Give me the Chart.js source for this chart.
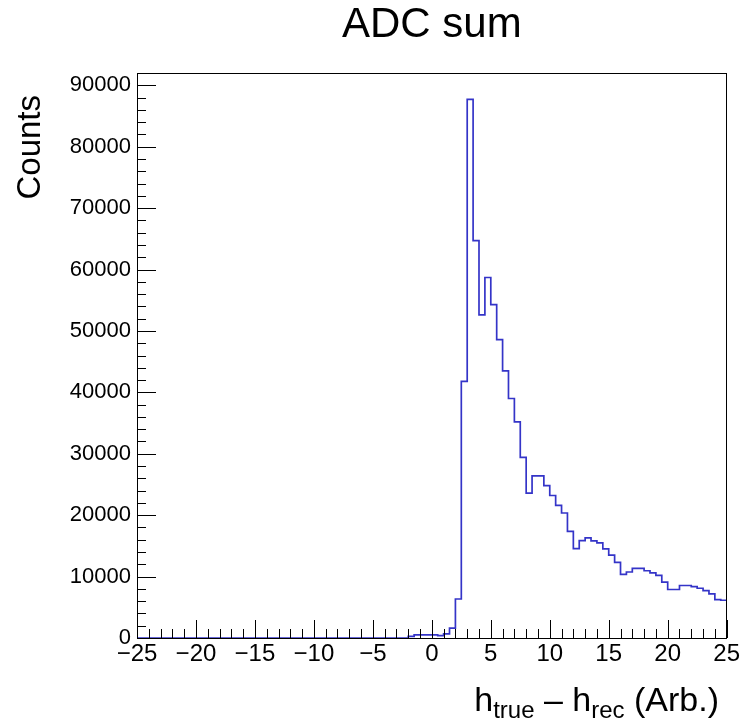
<!DOCTYPE html>
<html>
<head>
<meta charset="utf-8">
<script src="https://cdn.jsdelivr.net/npm/chart.js@4.4.1/dist/chart.umd.min.js"></script>
<style>
  html, body { margin: 0; padding: 0; background: #ffffff; }
  #c { display: block; }
</style>
</head>
<body>
<canvas id="c" width="742" height="721"></canvas>
<script>
// ---- Data (histogram "ADC sum", 100 bins of 0.5 from -25 to 25) ----
const xMin = -25;
const xMax = 25;
const binWidth = 0.5;
const counts = [
  0, 0, 0, 0, 0, 0, 0, 0, 0, 0,            // -25 .. -20
  0, 0, 0, 0, 0, 0, 0, 0, 0, 0,            // -20 .. -15
  0, 0, 0, 0, 0, 0, 0, 0, 0, 0,            // -15 .. -10
  0, 0, 0, 0, 0, 0, 0, 0, 0, 0,            // -10 .. -5
  0, 0, 0, 0, 0, 0, 250, 500, 500, 500,    // -5 .. 0
  500, 380, 680, 1600, 6350, 41800, 87700, 64700, 52600, 58700,   // 0 .. 5
  54300, 48600, 43500, 39000, 35200, 29400, 23600, 26400, 26400, 24800, // 5 .. 10
  23200, 21600, 20350, 17350, 14550, 15850, 16300, 15800, 15500, 14500, // 10 .. 15
  13500, 12300, 10350, 10750, 11350, 11350, 10950, 10600, 10200, 9100,  // 15 .. 20
  7900, 7900, 8550, 8550, 8350, 8100, 7700, 7200, 6250, 6150            // 20 .. 25
];
const xTickValues = [-25, -20, -15, -10, -5, 0, 5, 10, 15, 20, 25];
const xTickLabels = ['\u221225', '\u221220', '\u221215', '\u221210', '\u22125', '0', '5', '10', '15', '20', '25'];
const yTickValues = [0, 10000, 20000, 30000, 40000, 50000, 60000, 70000, 80000, 90000];
const yTickLabels = ['0', '10000', '20000', '30000', '40000', '50000', '60000', '70000', '80000', '90000'];
const yMax = 92000;
const xMinorStep = 1;
const yMinorStep = 2000;
const titleText = 'ADC sum';
const yTitleText = 'Counts';

// build step points (left edge of each bin + closing point at right edge)
const points = counts.map((v, i) => ({ x: xMin + i * binWidth, y: v }));
points.push({ x: xMax, y: counts[counts.length - 1] });

const FONT = "'Liberation Sans', Arial, Helvetica, sans-serif";
Chart.defaults.font.family = FONT;
Chart.defaults.color = '#000000';

const frameAndText = {
  id: 'frameAndText',
  afterDraw(chart) {
    const ctx = chart.ctx;
    const a = chart.chartArea;
    const xs = chart.scales.x;
    const ys = chart.scales.y;
    ctx.save();
    ctx.strokeStyle = '#000000';
    ctx.lineWidth = 1;
    // frame
    ctx.strokeRect(Math.round(a.left) + 0.5, Math.round(a.top) + 0.5,
                   Math.round(a.right - a.left) - 1, Math.round(a.bottom - a.top));
    // x ticks (inside, upward)
    ctx.beginPath();
    for (let v = xMin; v <= xMax + 1e-9; v += xMinorStep) {
      const px = Math.round(xs.getPixelForValue(v)) + 0.5;
      const major = Math.abs(v % 5) < 1e-9;
      const len = major ? 18 : 9;
      ctx.moveTo(px, a.bottom);
      ctx.lineTo(px, a.bottom - len);
    }
    // y ticks (inside, to the right)
    for (let v = 0; v <= yMax + 1e-9; v += yMinorStep) {
      const py = Math.round(ys.getPixelForValue(v)) + 0.5;
      const major = Math.abs(v % 10000) < 1e-9;
      const len = major ? 19 : 9;
      ctx.moveTo(a.left, py);
      ctx.lineTo(a.left + len, py);
    }
    ctx.stroke();

    // y axis title
    ctx.fillStyle = '#000000';
    ctx.save();
    ctx.translate(31, 95);
    ctx.rotate(-Math.PI / 2);
    ctx.font = '33px ' + FONT;
    ctx.textAlign = 'right';
    ctx.textBaseline = 'middle';
    ctx.fillText(yTitleText, 0, 0);
    ctx.restore();

    // x axis title with subscripts: h_true – h_rec (Arb.)
    const parts = [
      { t: 'h', s: 34, dy: 0 },
      { t: 'true', s: 24, dy: 7 },
      { t: ' \u2013 h', s: 34, dy: 0 },
      { t: 'rec', s: 24, dy: 7 },
      { t: ' (Arb.)', s: 34, dy: 0 }
    ];
    let total = 0;
    parts.forEach(p => { ctx.font = p.s + 'px ' + FONT; p.w = ctx.measureText(p.t).width; total += p.w; });
    let x = 719 - total;
    const baseY = 711;
    ctx.textAlign = 'left';
    ctx.textBaseline = 'alphabetic';
    parts.forEach(p => {
      ctx.font = p.s + 'px ' + FONT;
      ctx.fillText(p.t, x, baseY + p.dy);
      x += p.w;
    });
    ctx.restore();
  }
};

new Chart(document.getElementById('c'), {
  type: 'line',
  data: {
    datasets: [{
      label: titleText,
      data: points,
      stepped: 'before',
      borderColor: '#3434c8',
      borderWidth: 1.7,
      pointRadius: 0,
      fill: false,
      tension: 0
    }]
  },
  options: {
    responsive: false,
    animation: false,
    devicePixelRatio: 1,
    parsing: true,
    layout: { padding: { left: 0, right: 15, top: 0, bottom: 0 } },
    plugins: {
      legend: { display: false },
      tooltip: { enabled: false },
      title: {
        display: true,
        text: titleText,
        fullSize: false,
        color: '#000000',
        font: { size: 42, weight: 'normal', family: FONT, lineHeight: 1.2 },
        padding: { top: 0, bottom: 22.6 }
      }
    },
    scales: {
      x: {
        type: 'linear',
        min: xMin,
        max: xMax,
        afterBuildTicks: s => { s.ticks = xTickValues.map(v => ({ value: v })); },
        afterFit: s => { s.height = 83; },
        grid: { display: false, drawTicks: false },
        border: { display: false },
        ticks: {
          autoSkip: false,
          maxRotation: 0,
          minRotation: 0,
          padding: 2,
          color: '#000000',
          font: { size: 24, family: FONT },
          callback: (v) => { const i = xTickValues.indexOf(v); return i >= 0 ? xTickLabels[i] : ''; }
        }
      },
      y: {
        type: 'linear',
        min: 0,
        max: yMax,
        afterBuildTicks: s => { s.ticks = yTickValues.map(v => ({ value: v })); },
        afterFit: s => { s.width = 137; },
        grid: { display: false, drawTicks: false },
        border: { display: false },
        ticks: {
          autoSkip: false,
          padding: 6,
          color: '#000000',
          font: { size: 22, family: FONT },
          callback: (v) => { const i = yTickValues.indexOf(v); return i >= 0 ? yTickLabels[i] : ''; }
        }
      }
    }
  },
  plugins: [frameAndText]
});
</script>
</body>
</html>
